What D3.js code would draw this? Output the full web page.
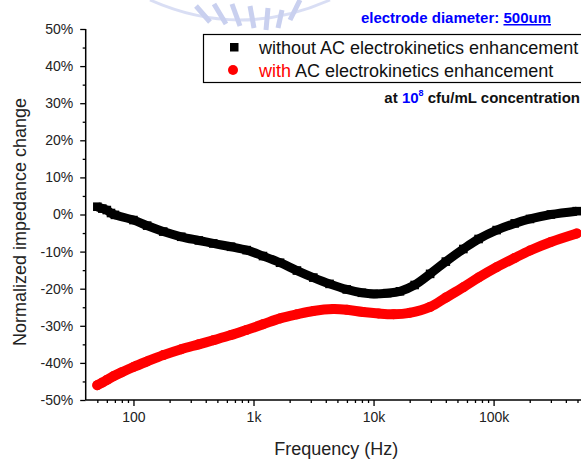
<!DOCTYPE html>
<html>
<head>
<meta charset="utf-8">
<script src="https://cdn.jsdelivr.net/npm/d3@7"></script>
<style>
  html, body { margin: 0; padding: 0; background: #fff; }
  svg { display: block; font-family: Arial, "Liberation Sans", sans-serif; }
</style>
</head>
<body>
<svg id="chart" width="581" height="461"></svg>
<script>
// Frequency sweep (Hz) and normalized impedance change (%)
const freqWithout = [50, 55, 60, 65, 70, 100, 130, 177, 250, 350, 462, 650, 877, 1200, 1664, 2300, 3150, 4300, 5980, 8000, 10000, 13000, 16600, 22000, 29600, 40000, 56000, 75000, 106000, 150000, 201000, 300000, 493000];
const valuesWithout = [2.1, 1.6, 1.2, 0.4, -0.1, -1.5, -3.0, -4.6, -6.0, -7.0, -7.8, -8.7, -9.6, -11.2, -13.0, -15.1, -17.0, -18.7, -20.2, -21.1, -21.4, -21.2, -20.7, -19.0, -16.0, -12.7, -9.3, -6.6, -4.2, -2.4, -1.2, 0.0, 0.9];

const freqWith = [50, 55, 60, 68, 80, 100, 130, 177, 250, 350, 462, 650, 877, 1200, 1664, 2300, 3150, 4620, 6000, 8180, 11000, 14700, 20000, 29600, 40000, 56000, 75000, 106000, 150000, 201000, 300000, 493000];
const valuesWith = [-46.0, -45.3, -44.6, -43.6, -42.5, -41.1, -39.6, -37.9, -36.3, -35.0, -33.9, -32.5, -31.1, -29.6, -28.0, -26.9, -26.0, -25.5, -25.7, -26.3, -26.7, -26.9, -26.5, -24.9, -22.4, -19.6, -17.0, -14.2, -11.7, -9.7, -7.4, -5.1];

const xMajorTicks = [100, 1000, 10000, 100000];
const xMajorLabels = ["100", "1k", "10k", "100k"];
const yMajorTicks = [50, 40, 30, 20, 10, 0, -10, -20, -30, -40, -50];
const yMinorTicks = [45, 35, 25, 15, 5, -5, -15, -25, -35, -45];

const seriesNames = ["without AC electrokinetics enhancement", "with AC electrokinetics enhancement"];

const svg = d3.select("#chart");

const x = d3.scaleLog().domain([40, 600000]).range([85.7, 587]);
const y = d3.scaleLinear().domain([-50, 50]).range([400, 29]);

// minor x ticks: 2..9 within each decade
const xMinorTicks = [];
[10, 100, 1000, 10000, 100000].forEach(d => {
  for (let k = 2; k <= 9; k++) {
    const v = d * k;
    if (v > 40 && v < 600000 && !xMajorTicks.includes(v)) xMinorTicks.push(v);
  }
});

// faint watermark strokes along the top edge
const wm = svg.append("g").attr("fill", "none").attr("stroke", "#c9d0ef").attr("stroke-width", 5);
[[196, 6, 210, 22], [214, 4, 226, 24], [232, 4, 240, 26], [250, 6, 254, 28], [268, 8, 266, 30], [282, 10, 278, 28], [300, 0, 290, 20]].forEach(s => {
  wm.append("line").attr("x1", s[0]).attr("y1", s[1]).attr("x2", s[2]).attr("y2", s[3]);
});
wm.append("path").attr("d", "M150,0 Q240,40 330,0").attr("stroke-width", 3).attr("opacity", 0.7);

// axes
const yAxis = svg.append("g").attr("transform", "translate(85.7,0)")
  .call(d3.axisLeft(y).tickValues(yMajorTicks).tickSize(5.5).tickPadding(7)
    .tickFormat(d => d + "%"));
const yMinor = svg.append("g").attr("transform", "translate(85.7,0)")
  .call(d3.axisLeft(y).tickValues(yMinorTicks).tickSize(3).tickFormat(""));

const xAxis = svg.append("g").attr("transform", "translate(0,400)")
  .call(d3.axisBottom(x).tickValues(xMajorTicks).tickSize(6).tickPadding(6)
    .tickFormat((d, i) => xMajorLabels[i]));
const xMinor = svg.append("g").attr("transform", "translate(0,400)")
  .call(d3.axisBottom(x).tickValues(xMinorTicks).tickSize(3).tickFormat(""));

[yAxis, yMinor, xAxis, xMinor].forEach(g => {
  g.select(".domain").attr("stroke", "#000").attr("stroke-width", 1.5);
  g.selectAll(".tick line").attr("stroke", "#000").attr("stroke-width", 1.3);
  g.selectAll(".tick text").attr("font-size", 14).attr("fill", "#222")
    .attr("font-family", "Arial, 'Liberation Sans', sans-serif");
});
yMinor.select(".domain").remove();
xMinor.select(".domain").remove();
yAxis.select(".domain").attr("d", `M-0,${y(50)}V${y(-50)}`);
xAxis.select(".domain").attr("d", `M${x(40)},0H587`);

// axis titles
svg.append("text")
  .attr("transform", "translate(26,222) rotate(-90)")
  .attr("text-anchor", "middle").attr("font-size", 18).attr("fill", "#222")
  .text("Normalized impedance change");
svg.append("text")
  .attr("x", (x(40) + 587) / 2).attr("y", 455)
  .attr("text-anchor", "middle").attr("font-size", 18).attr("fill", "#222")
  .text("Frequency (Hz)");

// data
const plot = svg.append("g");
const line = d3.line().curve(d3.curveCatmullRom.alpha(0.5)).x(d => x(d[0])).y(d => y(d[1]));

const dataWithout = freqWithout.map((f, i) => [f, valuesWithout[i]]);
const dataWith = freqWith.map((f, i) => [f, valuesWith[i]]);

plot.append("path").datum(dataWithout).attr("d", line)
  .attr("fill", "none").attr("stroke", "#000").attr("stroke-width", 9).attr("stroke-linejoin", "round");
plot.selectAll("rect.m").data(dataWithout).enter().append("rect").attr("class", "m")
  .attr("x", d => x(d[0]) - 4.3).attr("y", d => y(d[1]) - 4.3).attr("width", 8.6).attr("height", 8.6).attr("fill", "#000");

plot.append("path").datum(dataWith).attr("d", line)
  .attr("fill", "none").attr("stroke", "#ff0000").attr("stroke-width", 10).attr("stroke-linecap", "round").attr("stroke-linejoin", "round");
plot.selectAll("circle.m").data(dataWith).enter().append("circle").attr("class", "m")
  .attr("cx", d => x(d[0])).attr("cy", d => y(d[1])).attr("r", 5).attr("fill", "#ff0000");

// legend
const leg = svg.append("g");
leg.append("rect").attr("x", 203.5).attr("y", 34.5).attr("width", 400).attr("height", 48)
  .attr("fill", "#fff").attr("stroke", "#000").attr("stroke-width", 1.2);
leg.append("rect").attr("x", 230).attr("y", 43).attr("width", 8.5).attr("height", 8.5).attr("fill", "#000");
leg.append("circle").attr("cx", 233).attr("cy", 70).attr("r", 5).attr("fill", "#ff0000");
leg.append("text").attr("x", 259).attr("y", 53.5).attr("font-size", 18).attr("fill", "#111")
  .text(seriesNames[0]);
const t2 = leg.append("text").attr("x", 259).attr("y", 76.5).attr("font-size", 18).attr("fill", "#111");
t2.append("tspan").attr("fill", "#ff0000").text("with");
t2.append("tspan").text(seriesNames[1].replace(/^with/, ""));

// annotations
const ann1 = svg.append("text").attr("x", 551).attr("y", 23).attr("text-anchor", "end")
  .attr("font-size", 15).attr("font-weight", "bold").attr("fill", "#0000ff");
ann1.append("tspan").text("electrode diameter: ");
ann1.append("tspan").attr("text-decoration", "underline").text("500um");

const ann2 = svg.append("text").attr("x", 580).attr("y", 103).attr("text-anchor", "end")
  .attr("font-size", 15).attr("font-weight", "bold").attr("fill", "#111");
ann2.append("tspan").text("at ");
ann2.append("tspan").attr("fill", "#0000ff").text("10");
ann2.append("tspan").attr("fill", "#0000ff").attr("font-size", 9).attr("dy", -7).text("8");
ann2.append("tspan").attr("dy", 7).text(" cfu/mL concentration");
</script>
</body>
</html>
